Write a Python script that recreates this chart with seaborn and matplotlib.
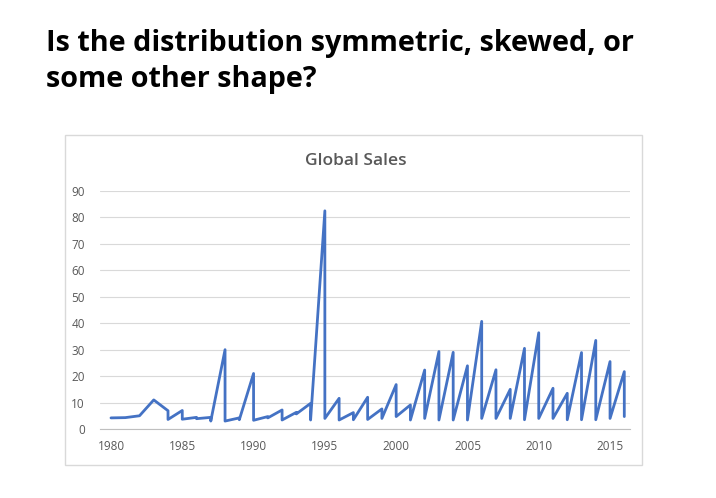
"""Global Sales sawtooth line chart, Excel style."""

import pandas as pd
import matplotlib
matplotlib.use("Agg")
import matplotlib.pyplot as plt
import seaborn as sns
from matplotlib.patches import Rectangle

# points in plotting order (each year: peak then drop back down)
years = [1980, 1981, 1982, 1983, 1984, 1984, 1985, 1985, 1986, 1986,
         1987, 1987, 1988, 1988, 1989, 1989, 1990, 1990, 1991, 1991,
         1992, 1992, 1993, 1993, 1994, 1994, 1995, 1995, 1996, 1996,
         1997, 1997, 1998, 1998, 1999, 1999, 2000, 2000, 2001, 2001,
         2002, 2002, 2003, 2003, 2004, 2004, 2005, 2005, 2006, 2006,
         2007, 2007, 2008, 2008, 2009, 2009, 2010, 2010, 2011, 2011,
         2012, 2012, 2013, 2013, 2014, 2014, 2015, 2015, 2016, 2016]
sales = [4.2, 4.3, 5.0, 11.0, 6.9, 3.6, 7.0, 3.7, 4.4, 3.9,
         4.4, 3.0, 30.0, 3.0, 4.2, 3.5, 21.0, 3.3, 4.7, 4.2,
         7.2, 3.4, 6.3, 5.7, 9.7, 3.4, 82.5, 4.0, 11.6, 3.4,
         6.2, 3.5, 12.0, 3.6, 7.6, 4.0, 16.8, 4.7, 9.1, 3.4,
         22.3, 4.0, 29.3, 3.4, 29.0, 3.4, 23.9, 3.4, 40.7, 4.0,
         22.4, 4.0, 15.0, 4.0, 30.5, 3.5, 36.4, 4.0, 15.4, 4.0,
         13.5, 3.5, 28.9, 3.5, 33.5, 3.5, 25.5, 4.0, 21.7, 4.7]

df = pd.DataFrame({"year": years, "sales": sales})

sns.set_theme(style="white")
plt.rcParams["font.family"] = ["Open Sans", "DejaVu Sans"]

fig = plt.figure(figsize=(7.16, 4.98), dpi=100)
fig.patch.set_facecolor("white")

# chart frame
fig.patches.append(Rectangle((65 / 716, 1 - 465 / 498), 577 / 716, 330 / 498,
                             transform=fig.transFigure, fill=False,
                             edgecolor="#d9d9d9", linewidth=1.0))

ax = fig.add_axes([100 / 716, 1 - 429 / 498, 530 / 716, 238 / 498])
sns.lineplot(data=df, x="year", y="sales", ax=ax, sort=False, estimator=None,
             color="#4472C4", linewidth=2.0)

ax.set_xlim(1979.23, 2016.4)
ax.set_ylim(0, 90)
ax.set_yticks(range(0, 91, 10))
ax.set_xticks(range(1980, 2016, 5))
ax.grid(axis="y", color="#d9d9d9", linewidth=0.8)
ax.set_axisbelow(True)
for side in ["top", "right", "left"]:
    ax.spines[side].set_visible(False)
ax.spines["bottom"].set_color("#bfbfbf")
ax.spines["bottom"].set_linewidth(0.8)
ax.tick_params(axis="both", length=0, labelsize=8.5, labelcolor="#595959")
ax.tick_params(axis="y", pad=11)
ax.tick_params(axis="x", pad=8)
ax.set_xlabel("")
ax.set_ylabel("")

fig.text(356 / 716, 1 - 161 / 498, "Global Sales", ha="center", va="center",
         fontsize=12.5, color="#595959", fontweight="semibold")

fig.text(46 / 716, 1 - 43 / 498, "Is the distribution symmetric, skewed, or",
         ha="left", va="center", fontsize=20.7, fontweight="bold", color="black")
fig.text(46 / 716, 1 - 80 / 498, "some other shape?",
         ha="left", va="center", fontsize=20.7, fontweight="bold", color="black")

fig.savefig("out.png", dpi=100)
